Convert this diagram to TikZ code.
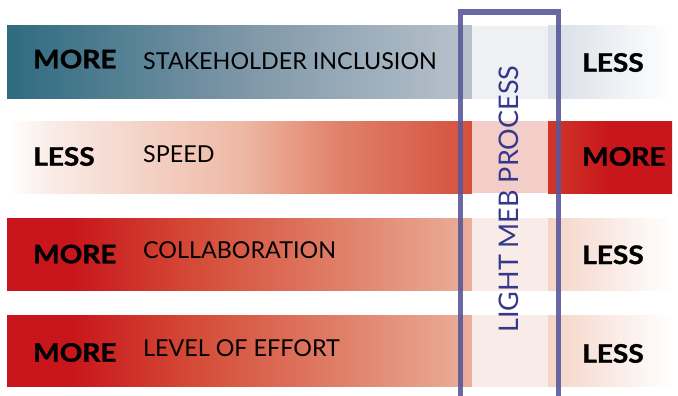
\documentclass[tikz,border=0pt]{standalone}
\usepackage{fontspec}
\setmainfont{Lato}[BoldFeatures={FakeBold=1.2}]
\definecolor{tealdark}{RGB}{46,107,128}
\definecolor{tealmid}{RGB}{125,150,167}
\definecolor{teallight}{RGB}{184,194,205}
\definecolor{tealpale}{RGB}{216,222,230}
\definecolor{tealtint}{RGB}{238,240,244}
\definecolor{mebred}{RGB}{200,22,28}
\definecolor{redA}{RGB}{208,55,40}
\definecolor{redB}{RGB}{212,75,55}
\definecolor{redC}{RGB}{224,128,105}
\definecolor{redD}{RGB}{235,175,155}
\definecolor{redE}{RGB}{250,235,230}
\definecolor{redF}{RGB}{238,185,165}
\definecolor{redG}{RGB}{212,80,60}
\definecolor{redtint}{RGB}{243,205,200}
\definecolor{pinktint}{RGB}{249,236,232}
\definecolor{pinkpale}{RGB}{245,212,200}
\definecolor{boxline}{RGB}{88,88,155}
\definecolor{boxtext}{RGB}{52,56,140}
% shadings: 25bp = left edge, 75bp = right edge
\pgfdeclarehorizontalshading{tealfade}{100bp}{color(0bp)=(tealdark); color(25bp)=(tealdark);
  color(50bp)=(tealmid); color(75bp)=(teallight); color(100bp)=(teallight)}
\pgfdeclarehorizontalshading{tealout}{100bp}{color(0bp)=(tealpale); color(25bp)=(tealpale);
  color(75bp)=(white); color(100bp)=(white)}
\pgfdeclarehorizontalshading{redrise}{100bp}{color(0bp)=(white); color(25bp)=(white);
  color(30bp)=(redE); color(50bp)=(redF); color(61bp)=(redC); color(75bp)=(redG); color(100bp)=(redG)}
\pgfdeclarehorizontalshading{redfull}{100bp}{color(0bp)=(redA); color(25bp)=(redA);
  color(50bp)=(mebred); color(75bp)=(mebred); color(100bp)=(mebred)}
\pgfdeclarehorizontalshading{redfade}{100bp}{color(0bp)=(mebred); color(25bp)=(mebred);
  color(32bp)=(mebred); color(45bp)=(redB); color(61bp)=(redC); color(75bp)=(redD); color(100bp)=(redD)}
\pgfdeclarehorizontalshading{pinkout}{100bp}{color(0bp)=(pinkpale); color(25bp)=(pinkpale);
  color(75bp)=(white); color(100bp)=(white)}
\begin{document}
\begin{tikzpicture}[x=1pt, y=-1pt,
  bold/.style={font=\bfseries\fontsize{25.5}{25.5}\selectfont, anchor=base west, inner sep=0pt, xscale=1.1},
  item/.style={font=\fontsize{23.3}{23.3}\selectfont, anchor=base west, inner sep=0pt}]
\clip (0,0) rectangle (678,396);
\fill[white] (0,0) rectangle (678,396);
% stakeholder inclusion
\shade[shading=tealfade] (7,26) rectangle (472,98.7);
\fill[tealtint] (472,26) rectangle (548,98.7);
\shade[shading=tealout] (548,26) rectangle (672,98.7);
% speed
\shade[shading=redrise] (7,121) rectangle (472,193.3);
\fill[redtint] (472,121) rectangle (548,193.3);
\shade[shading=redfull] (548,121) rectangle (672,193.3);
% collaboration
\shade[shading=redfade] (7,218) rectangle (472,290.7);
\fill[pinktint] (472,218) rectangle (548,290.7);
\shade[shading=pinkout] (548,218) rectangle (672,290.7);
% level of effort
\shade[shading=redfade] (7,315) rectangle (472,386.7);
\fill[pinktint] (472,315) rectangle (548,386.7);
\shade[shading=pinkout] (548,315) rectangle (672,386.7);
% labels
\node[bold] (more1) at (33,68.3) {MORE};
\node[item] (stake) at (143,69.3) {STAKEHOLDER INCLUSION};
\node[bold] (less1) at (582,71.7) {LESS};
\node[bold] (less2) at (33,165.7) {LESS};
\node[item] (speed) at (143,162.3) {SPEED};
\node[bold] (more2) at (582,165.7) {MORE};
\node[bold] (more3) at (33,263.3) {MORE};
\node[item] (collab) at (143,258.3) {COLLABORATION};
\node[bold] (less3) at (582,264) {LESS};
\node[bold] (more4) at (33,361.7) {MORE};
\node[item] (effort) at (143,356.7) {LEVEL OF EFFORT};
\node[bold] (less4) at (582,362.7) {LESS};
% light process box
\draw[boxline, opacity=0.9, line width=5.3pt] (460.7,12) rectangle (558.8,420);
\node[item, font=\fontsize{27}{27}\selectfont, text=boxtext, rotate=90] (process) at (518.3,333) {LIGHT MEB PROCESS};
\end{tikzpicture}
\end{document}
